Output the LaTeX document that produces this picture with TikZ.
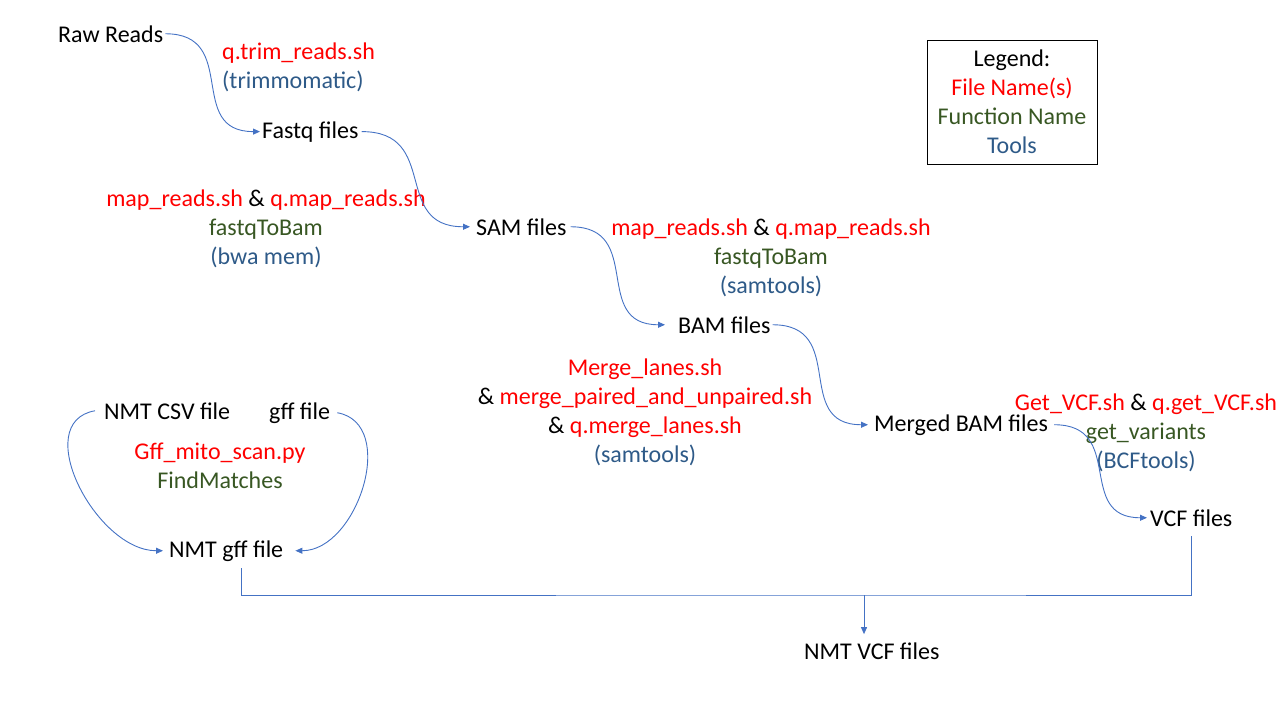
\documentclass[tikz,border=0pt]{standalone}
\usepackage{fontspec}
\setmainfont{Carlito}
\usetikzlibrary{arrows.meta, positioning}
\definecolor{fred}{HTML}{FF0000}
\definecolor{fgreen}{HTML}{385723}
\definecolor{fblue}{HTML}{2E5A88}
\definecolor{link}{HTML}{4472C4}
\newcommand{\fnm}[1]{\textcolor{fred}{#1}}
\newcommand{\fcn}[1]{\textcolor{fgreen}{#1}}
\newcommand{\tls}[1]{\textcolor{fblue}{#1}}
\tikzset{
  f/.style={inner sep=0pt, font=\fontsize{24}{29}\selectfont},
  fl/.style={f, anchor=base west},
  lab/.style={f, align=center},
  a/.style={-{Triangle[length=7pt, width=6pt]}, draw=link, line width=0.9pt},
  ln/.style={draw=link, line width=0.9pt},
  legbox/.style={lab, draw=black, line width=0.9pt, minimum width=170pt, minimum height=124pt},
}

\begin{document}
\begin{tikzpicture}[x=1pt, y=-1pt]
\useasboundingbox (0,0) rectangle (1280,720);
% files
\node[fl] (raw) at (58,42) {Raw Reads};
\node[fl] (fastq) at (262,138) {Fastq files};
\node[fl] (sam) at (476,235) {SAM files};
\node[fl] (bam) at (678,333) {BAM files};
\node[fl] (mbam) at (874,431) {Merged BAM files};
\node[fl] (vcf) at (1150,526) {VCF files};
\node[fl] (csv) at (104,419) {NMT CSV file};
\node[fl] (gff) at (269,419) {gff file};
\node[fl] (ngff) at (169,557) {NMT gff file};
\node[fl] (nvcf) at (804,659) {NMT VCF files};

% steps
\node[f, align=left, anchor=west] (trim) at (222,67.5) {\fnm{q.trim\_reads.sh}\\\tls{(trimmomatic)}};
\node[lab] (map1) at (266,228.5) {\fnm{map\_reads.sh} \& \fnm{q.map\_reads.sh}\\\fcn{fastqToBam}\\\tls{(bwa mem)}};
\node[lab] (map2) at (771,258) {\fnm{map\_reads.sh} \& \fnm{q.map\_reads.sh}\\\fcn{fastqToBam}\\\tls{(samtools)}};
\node[lab] (merge) at (645,412.5) {\fnm{Merge\_lanes.sh}\\\& \fnm{merge\_paired\_and\_unpaired.sh}\\\& \fnm{q.merge\_lanes.sh}\\\tls{(samtools)}};
\node[lab] (getvcf) at (1146,432.5) {\fnm{Get\_VCF.sh} \& \fnm{q.get\_VCF.sh}\\\fcn{get\_variants}\\\tls{(BCFtools)}};
\node[lab] (scan) at (220,465.5) {\fnm{Gff\_mito\_scan.py}\\\fcn{FindMatches}};

% legend
\node[legbox] (legend) at (1012,102) {Legend:\\\fnm{File Name(s)}\\\fcn{Function Name}\\\tls{Tools}};

% pipeline
\draw[a] ([xshift=2pt]raw.east) to[out=0, in=180, looseness=1.4] ([xshift=-2pt]fastq.west);
\draw[a] ([xshift=3pt]fastq.east) to[out=0, in=180, looseness=1.4] ([xshift=-6pt]sam.west);
\draw[a] ([xshift=4pt]sam.east) to[out=0, in=180, looseness=1.4] ([xshift=-13pt]bam.west);
\draw[a] ([xshift=2pt]bam.east) to[out=0, in=180, looseness=1.4] ([xshift=-6pt]mbam.west);
\draw[a] ([xshift=6pt]mbam.east) to[out=0, in=180, looseness=1.4] ([xshift=-3pt]vcf.west);
\draw[a] ([xshift=-9pt]csv.west) to[out=190, in=180, looseness=1.1] ([xshift=-6pt]ngff.west);
\draw[a] ([xshift=7pt]gff.east) to[out=-10, in=0, looseness=1.1] ([xshift=12pt]ngff.east);

% merge into NMT VCF
\coordinate (drop) at (241,568);
\coordinate (join) at (864,595);
\draw[ln] (drop) |- (join) -| ([yshift=-10pt]vcf.south);
\draw[a] (join) -- ([yshift=8pt]join |- nvcf.north);
\end{tikzpicture}
\end{document}
